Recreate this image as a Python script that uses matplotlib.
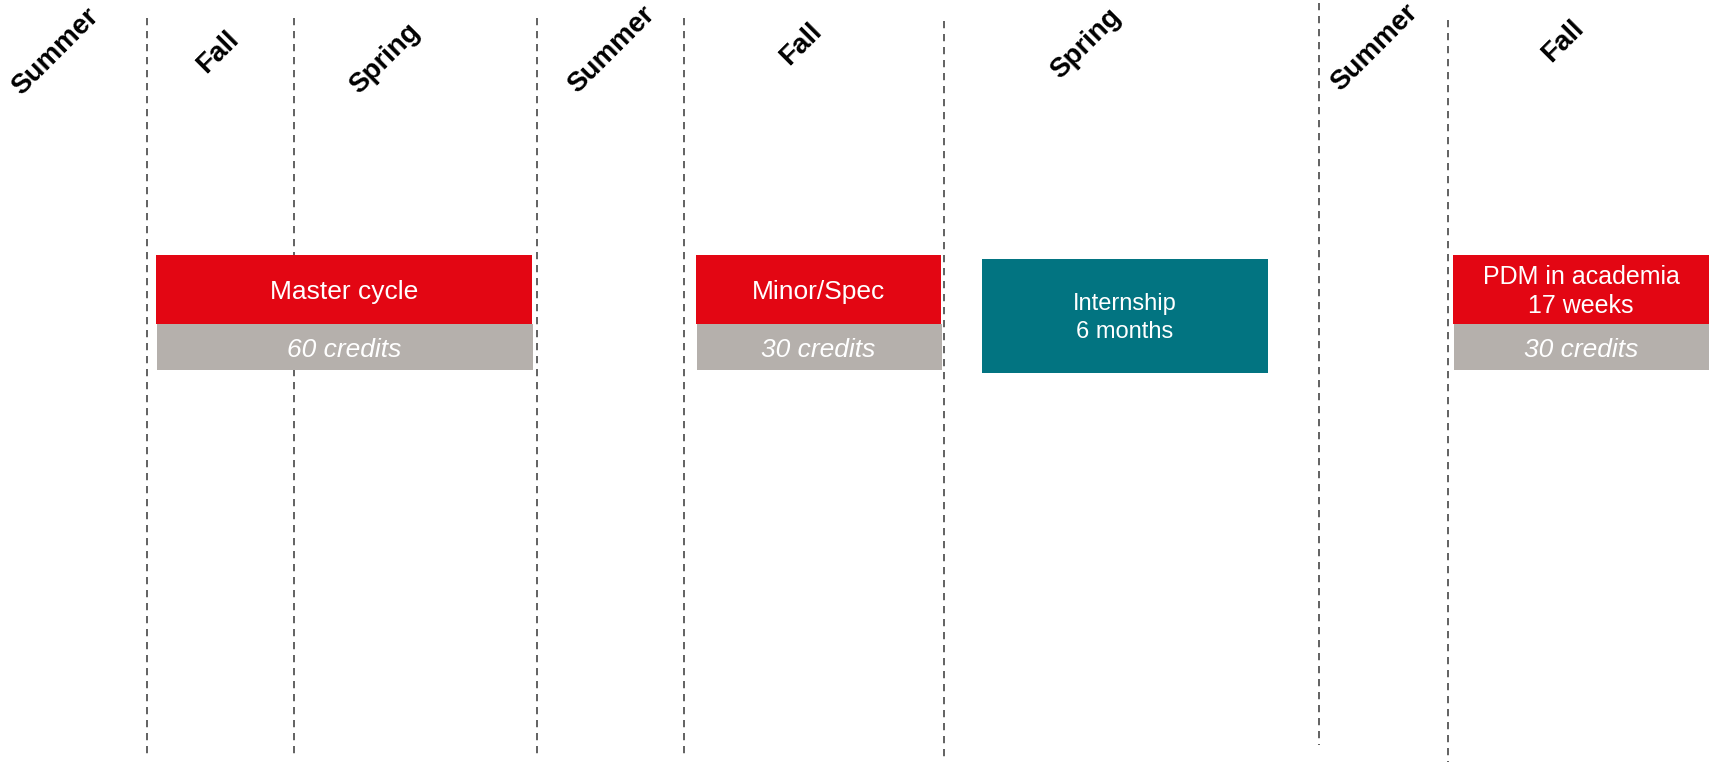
import matplotlib
matplotlib.use("Agg")
import matplotlib.pyplot as plt

plt.rcParams['font.family'] = ['Liberation Sans', 'DejaVu Sans']

# ---- data ----
seasons = ["Summer", "Fall", "Spring", "Summer", "Fall", "Spring", "Summer", "Fall"]
season_x = [55, 218, 385, 611, 801, 1086, 1374, 1563]
season_y = [52, 52, 59, 50, 44, 44, 48, 41]

divider_x = [147, 294, 537, 684, 944, 1319, 1448]
divider_top = [18, 18, 18, 18, 21, 3, 20]
divider_bottom = [757, 757, 757, 757, 762, 745, 762]

block_titles = ["Master cycle", "Minor/Spec", "PDM in academia\n17 weeks"]
block_credits = ["60 credits", "30 credits", "30 credits"]
block_left = [156, 696, 1453]
block_right = [532, 941, 1709]

intern_title = "Internship\n6 months"
intern_left, intern_right = 982, 1268

RED = "#E30613"
GREY = "#B5B0AC"
TEAL = "#027481"

fig = plt.figure(figsize=(17.09, 7.62), dpi=100)
ax = fig.add_axes([0, 0, 1, 1])
ax.set_xlim(0, 1709)
ax.set_ylim(762, 0)
ax.axis("off")

# dividers
for x, t, b in zip(divider_x, divider_top, divider_bottom):
    ax.plot([x, x], [t, b], color="#555555", lw=1.3, ls=(0, (4, 3.2)))

# season labels
for s, x, y in zip(seasons, season_x, season_y):
    ax.text(x, y, s, rotation=45, ha="center", va="center",
            fontsize=20, fontweight="bold", color="black",
            rotation_mode="anchor")

# red/grey blocks
red_top, red_bot = 255, 324
grey_bot = 370
for title, cred, l, r in zip(block_titles, block_credits, block_left, block_right):
    ax.barh((red_top + red_bot) / 2, r - l, left=l, height=red_bot - red_top,
            color=RED, zorder=3)
    ax.barh((red_bot + grey_bot) / 2, r - l, left=l + 1, height=grey_bot - red_bot,
            color=GREY, zorder=3)
    fs = 18 if "\n" in title else 19
    ax.text((l + r) / 2, (red_top + red_bot) / 2 + 2, title, ha="center", va="center",
            color="white", fontsize=fs, linespacing=1.3, zorder=4)
    ax.text((l + r) / 2, (red_bot + grey_bot) / 2 + 3, cred, ha="center", va="center",
            color="white", fontsize=19, style="italic", zorder=4)

# internship
it, ib = 259, 373
ax.barh((it + ib) / 2, intern_right - intern_left, left=intern_left, height=ib - it,
        color=TEAL, zorder=3)
ax.text((intern_left + intern_right) / 2, (it + ib) / 2 + 2, intern_title,
        ha="center", va="center", color="white", fontsize=17, linespacing=1.3, zorder=4)

fig.savefig("out.png", dpi=100)
